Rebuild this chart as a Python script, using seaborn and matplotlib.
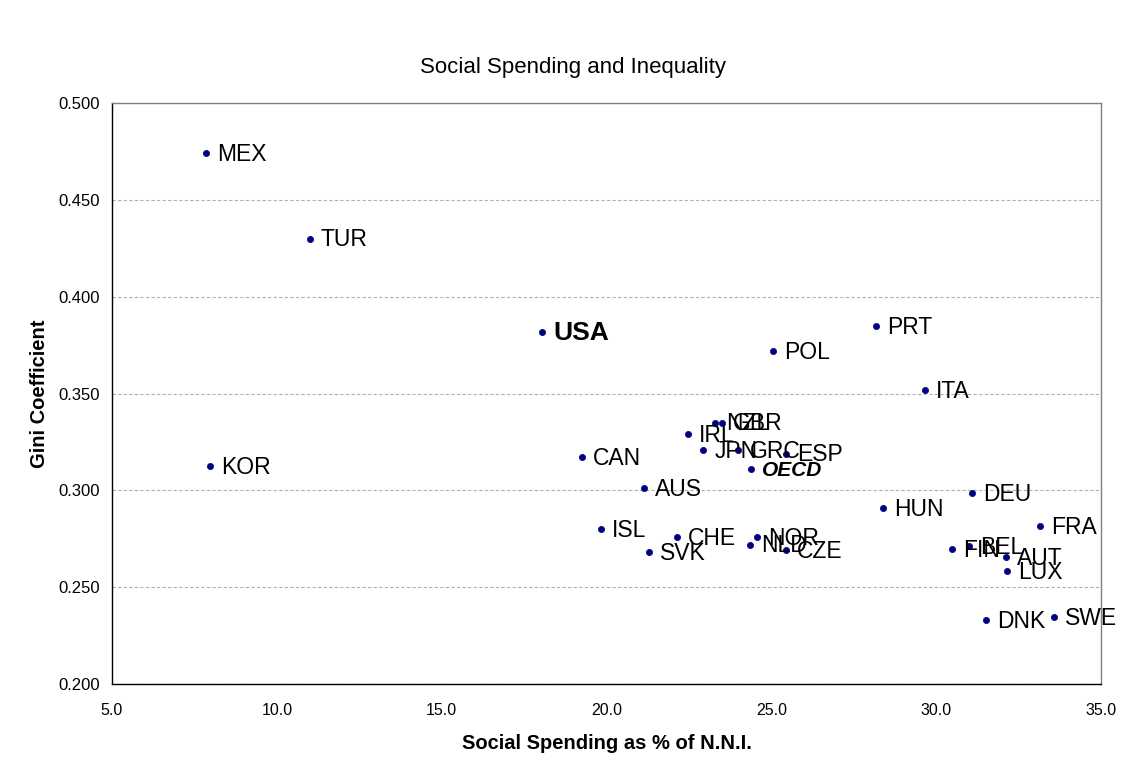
import numpy as np
import pandas as pd
import matplotlib.pyplot as plt
import seaborn as sns

# Country codes, social spending (% of N.N.I.) and Gini coefficient
countries = ['MEX', 'TUR', 'USA', 'KOR', 'CAN', 'AUS', 'ISL', 'SVK', 'CHE', 'IRL',
             'JPN', 'NZL', 'GBR', 'GRC', 'ESP', 'OECD', 'NOR', 'NLD', 'CZE', 'POL',
             'PRT', 'ITA', 'HUN', 'DEU', 'FRA', 'FIN', 'BEL', 'AUT', 'LUX', 'DNK', 'SWE']
spending = [7.85, 11.0, 18.04, 7.97, 19.26, 21.14, 19.83, 21.29, 22.14, 22.47,
            22.93, 23.3, 23.5, 24.0, 25.44, 24.38, 24.56, 24.35, 25.44, 25.05,
            28.17, 29.66, 28.38, 31.08, 33.15, 30.48, 30.99, 32.12, 32.15, 31.5, 33.57]
gini = [0.474, 0.430, 0.382, 0.3126, 0.317, 0.301, 0.280, 0.268, 0.276, 0.329,
        0.321, 0.335, 0.335, 0.321, 0.319, 0.311, 0.276, 0.272, 0.269, 0.372,
        0.385, 0.352, 0.291, 0.2986, 0.2816, 0.2697, 0.2713, 0.2656, 0.2584, 0.233, 0.2346]

df = pd.DataFrame({'country': countries, 'spending': spending, 'gini': gini})

sns.set_style('white')
plt.rcParams['font.family'] = ['Liberation Sans', 'DejaVu Sans']
plt.rcParams['text.color'] = 'black'
plt.rcParams['axes.labelcolor'] = 'black'

fig = plt.figure(figsize=(11.38, 7.78), dpi=100)
ax = fig.add_axes([0.0984, 0.1208, 0.8691, 0.7468])

sns.scatterplot(data=df, x='spending', y='gini', ax=ax, color='#000080',
                marker='o', s=20, edgecolor='#000080', linewidth=0.5, zorder=3)

for c, x, y in zip(countries, spending, gini):
    if c == 'USA':
        kw = dict(fontsize=19, fontweight='bold')
    elif c == 'OECD':
        kw = dict(fontsize=15, fontweight='bold', fontstyle='italic')
    else:
        kw = dict(fontsize=16.5)
    ax.annotate(c, (x, y), xytext=(8, -1), textcoords='offset points',
                va='center', ha='left', color='black', **kw)

ax.set_xlim(5, 35)
ax.set_ylim(0.2, 0.5)
ax.set_xticks(np.arange(5, 35.1, 5))
ax.set_xticklabels([f'{v:.1f}' for v in np.arange(5, 35.1, 5)])
ax.set_yticks(np.arange(0.2, 0.501, 0.05))
ax.set_yticklabels([f'{v:.3f}' for v in np.arange(0.2, 0.501, 0.05)])
ax.tick_params(axis='both', colors='black', length=5, width=1, direction='out')
ax.tick_params(axis='x', labelsize=11.5, pad=9)
ax.tick_params(axis='y', labelsize=12)
ax.grid(axis='y', color='#b0b0b0', linestyle=(0, (3, 2)), linewidth=0.8)
ax.set_axisbelow(True)

for side in ['left', 'bottom']:
    ax.spines[side].set_color('black')
    ax.spines[side].set_linewidth(1)
for side in ['top', 'right']:
    ax.spines[side].set_color('#808080')
    ax.spines[side].set_linewidth(1)

fig.text(0.5035, 0.9135, 'Social Spending and Inequality', fontsize=16,
         ha='center', va='center', color='black')
ax.set_xlabel('Social Spending as % of N.N.I.', fontsize=14.5, fontweight='bold', labelpad=11)
ax.set_ylabel('Gini Coefficient', fontsize=14.5, fontweight='bold', labelpad=7)

fig.savefig('out.png', dpi=100)
